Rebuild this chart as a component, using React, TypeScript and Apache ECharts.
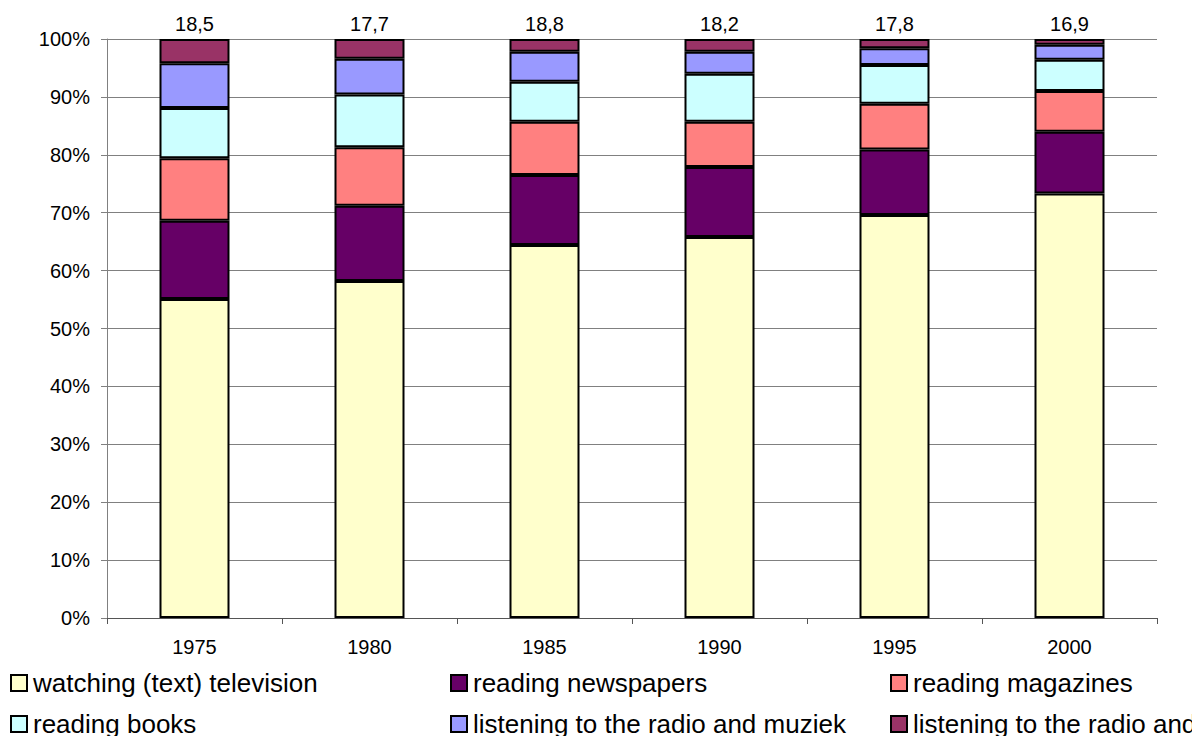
import React, { useEffect, useRef } from "react";
import * as echarts from "echarts";

const years = ["1975", "1980", "1985", "1990", "1995", "2000"];
const totals = [18.5, 17.7, 18.8, 18.2, 17.8, 16.9];
const seriesNames = [
  "watching (text) television",
  "reading newspapers",
  "reading magazines",
  "reading books",
  "listening to the radio and muziek",
  "listening to the radio and muziek (other)",
];
const legendLabels = [
  "watching (text) television",
  "reading newspapers",
  "reading magazines",
  "reading books",
  "listening to the radio and muziek",
  "listening to the radio and other",
];
const television = [55.1, 58.2, 64.4, 65.8, 69.6, 73.3];
const newspapers = [13.5, 13.0, 12.1, 12.1, 11.3, 10.7];
const magazines = [10.8, 10.1, 9.2, 7.8, 7.9, 7.0];
const books = [8.7, 9.1, 6.9, 8.3, 6.7, 5.4];
const radioMusic = [7.7, 6.2, 5.2, 3.8, 2.9, 2.6];
const radioOther = [4.2, 3.4, 2.2, 2.2, 1.6, 1.0];
const yTicks = [0, 10, 20, 30, 40, 50, 60, 70, 80, 90, 100];

const colors = ["#FFFFCC", "#660066", "#FF8080", "#CCFFFF", "#9999FF", "#993366"];
const FONT = "'Liberation Sans', Arial, sans-serif";

export default function App() {
  const ref = useRef<HTMLDivElement>(null);
  useEffect(() => {
    if (!ref.current) return;
    const chart = echarts.init(ref.current, undefined, { renderer: "svg" });
    const data = [television, newspapers, magazines, books, radioMusic, radioOther];
    const legendPos = [
      { left: 10, top: 670 },
      { left: 450, top: 670 },
      { left: 890, top: 670 },
      { left: 10, top: 711 },
      { left: 450, top: 711 },
      { left: 890, top: 711 },
    ];
    chart.setOption({
      animation: false,
      textStyle: { fontFamily: FONT },
      grid: { left: 107, right: 35, top: 39, bottom: 118, containLabel: false },
      legend: legendLabels.map((n, i) => ({
        data: [seriesNames[i]],
        formatter: () => n,
        left: legendPos[i].left,
        top: legendPos[i].top,
        padding: 0,
        icon: "rect",
        itemWidth: 16,
        itemHeight: 16,
        itemGap: 0,
        itemStyle: { borderColor: "#000", borderWidth: 2 },
        textStyle: {
          fontSize: 26,
          lineHeight: 26,
          color: "#000",
          fontFamily: FONT,
          padding: [0, 0, 0, 1],
        },
        selectedMode: false,
      })),
      xAxis: {
        type: "category",
        data: years,
        boundaryGap: true,
        axisLine: { show: true, lineStyle: { color: "#555", width: 1 } },
        axisTick: { show: true, length: 6, alignWithLabel: false, lineStyle: { color: "#555" } },
        axisLabel: { color: "#000", fontSize: 20, margin: 19, fontFamily: FONT },
        splitLine: { show: false },
      },
      yAxis: {
        type: "value",
        min: 0,
        max: 100,
        interval: 10,
        axisLine: { show: true, lineStyle: { color: "#808080", width: 1 } },
        axisTick: { show: true, length: 6, lineStyle: { color: "#808080" } },
        axisLabel: {
          color: "#000",
          fontSize: 20,
          margin: 17,
          fontFamily: FONT,
          formatter: (v: number) => (yTicks.includes(v) ? v + "%" : ""),
        },
        splitLine: { show: true, lineStyle: { color: "#808080", width: 1 } },
      },
      series: data.map((d, i) => ({
        name: seriesNames[i],
        type: "bar",
        stack: "total",
        barWidth: "40%",
        data: d,
        itemStyle: { color: colors[i], borderColor: "#000", borderWidth: 2 },
        label:
          i === data.length - 1
            ? {
                show: true,
                position: "top",
                distance: 5,
                color: "#000",
                fontSize: 20,
                fontFamily: FONT,
                formatter: (p: any) => totals[p.dataIndex].toFixed(1).replace(".", ","),
              }
            : { show: false },
      })),
    });
    return () => chart.dispose();
  }, []);
  return <div ref={ref} style={{ width: 1192, height: 736, position: "absolute", left: 0, top: 0 }} />;
}
